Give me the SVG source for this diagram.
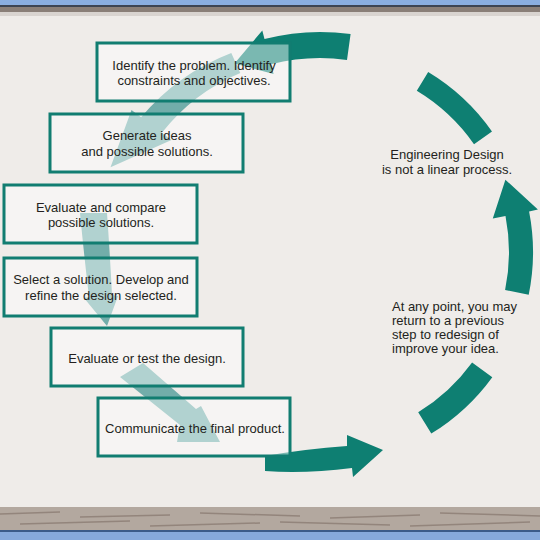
<svg xmlns="http://www.w3.org/2000/svg" width="540" height="540" viewBox="0 0 540 540">
  <defs>
    <style>
      .box { fill: #ffffff; fill-opacity: 0.45; stroke: #117d71; stroke-width: 3; }
      .txt { font-family: "Liberation Sans", Arial, sans-serif; font-size: 13px; fill: #231f20; }
      .mid { text-anchor: middle; }
      .dark { fill: #0e7f72; }
      .light { fill: #72adaa; }
    </style>
  </defs>

  <!-- background -->
  <rect x="0" y="0" width="540" height="540" fill="#efece9"/>
  <rect x="0" y="0" width="540" height="5" fill="#8aaee0"/>
  <rect x="0" y="5" width="540" height="2" fill="#3d4452"/>
  <rect x="0" y="7" width="540" height="5" fill="#8a7f78"/>
  <rect x="0" y="12" width="540" height="4" fill="#d9d4d0"/>
  <rect x="0" y="507" width="540" height="23" fill="#b3a89f"/>
  <g stroke="#8c7d74" stroke-width="1.5" opacity="0.8">
    <line x1="0" y1="514" x2="60" y2="512"/>
    <line x1="80" y1="517" x2="170" y2="515"/>
    <line x1="200" y1="513" x2="300" y2="516"/>
    <line x1="330" y1="518" x2="420" y2="515"/>
    <line x1="440" y1="513" x2="540" y2="516"/>
    <line x1="20" y1="524" x2="130" y2="521"/>
    <line x1="150" y1="526" x2="260" y2="523"/>
    <line x1="280" y1="522" x2="390" y2="525"/>
    <line x1="410" y1="526" x2="530" y2="522"/>
  </g>
  <rect x="0" y="530" width="540" height="2" fill="#3b5a8a"/>
  <rect x="0" y="532" width="540" height="8" fill="#86a8dc"/>

  <!-- connectors -->
  <g id="connectors">
    <path class="light" d="M231.3,52.9 A221,221 0 0 0 141.1,117.2 L131.5,110 L110.5,167.3 L171.5,140.1 L161.9,132.8 A197,197 0 0 1 240.3,73 Z"/>
    <path class="light" d="M80,213 L107,213 Q110,255 112,295 L118,296 L107,326 L84,298 L89,297 Q84,255 80,213 Z"/>
    <path class="light" d="M120,377 L143,363 L196,409 L201,406 L220,442 L177,442 L180,425 Z"/>
    <path class="dark" d="M350.6,34.1 A220,220 0 0 0 264.5,39.1 L262.3,30.4 L234.5,63.5 L273.6,73.9 L271.1,64.3 A194,194 0 0 1 347,59.9 Z"/>
    <path class="dark" d="M428.2,72 A210,210 0 0 1 492,131.5 L474,144.2 A188,188 0 0 0 416.8,90.8 Z"/>
    <path class="dark" d="M528.7,294.8 A213,213 0 0 0 529.1,211.4 L537.9,209.6 L505.4,179.7 L492.8,218.4 L505.5,215.9 A189,189 0 0 1 505.1,290 Z"/>
    <path class="dark" d="M492.3,377.2 A213,213 0 0 1 431.3,433.6 L418.2,412.3 A188,188 0 0 0 472.1,362.5 Z"/>
    <path class="dark" d="M265,456 Q305,449 347,446 L347,435 L383,450 L353,477 L352,468 Q305,474 265,471 Z"/>
  </g>

  <!-- nodes -->
  <g id="identify">
    <rect class="box" x="97" y="43" width="193" height="58"/>
    <text class="txt mid" x="194" y="70">Identify the problem. Identify</text>
    <text class="txt mid" x="194" y="85">constraints and objectives.</text>
  </g>
  <g id="generate">
    <rect class="box" x="50" y="114" width="193" height="58"/>
    <text class="txt mid" x="147" y="140">Generate ideas</text>
    <text class="txt mid" x="147" y="156">and possible solutions.</text>
  </g>
  <g id="compare">
    <rect class="box" x="4" y="185" width="193" height="58"/>
    <text class="txt mid" x="101" y="212">Evaluate and compare</text>
    <text class="txt mid" x="101" y="227">possible solutions.</text>
  </g>
  <g id="select">
    <rect class="box" x="4" y="258" width="193" height="58"/>
    <text class="txt mid" x="101" y="284">Select a solution. Develop and</text>
    <text class="txt mid" x="101" y="300">refine the design selected.</text>
  </g>
  <g id="test">
    <rect class="box" x="51" y="328" width="192" height="58"/>
    <text class="txt mid" x="147" y="363">Evaluate or test the design.</text>
  </g>
  <g id="communicate">
    <rect class="box" x="98" y="398" width="192" height="58"/>
    <text class="txt mid" x="195" y="433">Communicate the final product.</text>
  </g>
  <g id="note-linear">
    <text class="txt mid" x="447" y="159">Engineering Design</text>
    <text class="txt mid" x="447" y="174">is not a linear process.</text>
  </g>
  <g id="note-redesign">
    <text class="txt" x="392" y="311">At any point, you may</text>
    <text class="txt" x="392" y="325">return to a previous</text>
    <text class="txt" x="392" y="339">step to redesign of</text>
    <text class="txt" x="392" y="353">improve your idea.</text>
  </g>
</svg>
